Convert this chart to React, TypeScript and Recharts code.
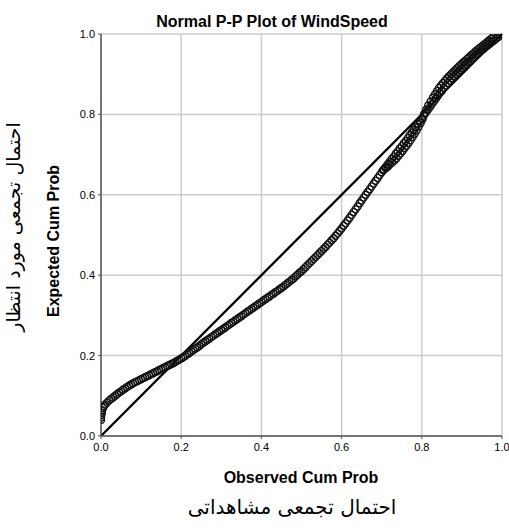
import React from 'react';
import { ScatterChart, Scatter, XAxis, YAxis, CartesianGrid, ReferenceLine } from 'recharts';

// Observed cumulative probability (x) of each plotted case
const observedCumProb = [
  0.000, 0.000, 0.001, 0.002, 0.003, 0.005, 0.007,
  0.010, 0.015, 0.020, 0.025, 0.030, 0.035, 0.040, 0.045, 0.050, 0.055,
  0.060, 0.065, 0.070, 0.075, 0.080, 0.085, 0.090, 0.095, 0.100, 0.105,
  0.110, 0.115, 0.120, 0.125, 0.130, 0.135, 0.140, 0.145, 0.150, 0.155,
  0.160, 0.165, 0.170, 0.175, 0.180, 0.185, 0.190, 0.195, 0.200, 0.205,
  0.210, 0.215, 0.220, 0.225, 0.230, 0.235, 0.240, 0.245, 0.250, 0.255,
  0.260, 0.265, 0.270, 0.275, 0.280, 0.285, 0.290, 0.295, 0.300, 0.305,
  0.310, 0.315, 0.320, 0.325, 0.330, 0.335, 0.340, 0.345, 0.350, 0.355,
  0.360, 0.365, 0.370, 0.375, 0.380, 0.385, 0.390, 0.395, 0.400, 0.405,
  0.410, 0.415, 0.420, 0.425, 0.430, 0.435, 0.440, 0.445, 0.450, 0.455,
  0.460, 0.465, 0.470, 0.475, 0.480, 0.485, 0.490, 0.495, 0.500, 0.505,
  0.510, 0.515, 0.520, 0.525, 0.530, 0.535, 0.540, 0.545, 0.550, 0.555,
  0.560, 0.565, 0.570, 0.575, 0.580, 0.585, 0.590, 0.595, 0.600, 0.605,
  0.610, 0.615, 0.620, 0.625, 0.630, 0.635, 0.640, 0.645, 0.650, 0.655,
  0.660, 0.665, 0.670, 0.675, 0.680, 0.685, 0.690, 0.695, 0.700, 0.705,
  0.710, 0.715, 0.720, 0.725, 0.730, 0.735, 0.740, 0.745, 0.750, 0.755,
  0.760, 0.765, 0.770, 0.775, 0.780, 0.785, 0.790, 0.795, 0.800, 0.805,
  0.810, 0.815, 0.820, 0.825, 0.830, 0.835, 0.840, 0.845, 0.850, 0.855,
  0.860, 0.865, 0.870, 0.875, 0.880, 0.885, 0.890, 0.895, 0.900, 0.905,
  0.910, 0.915, 0.920, 0.925, 0.930, 0.935, 0.940, 0.945, 0.950, 0.955,
  0.960, 0.965, 0.970, 0.975, 0.980, 0.985, 0.990, 0.995, 1.000,
  // lower edge of the band (0.70 - 0.80)
  0.704, 0.710, 0.715, 0.720, 0.726, 0.732, 0.737, 0.742, 0.747, 0.752, 0.757,
  0.762, 0.767, 0.772, 0.777, 0.782, 0.787, 0.792, 0.797, 0.802,
  // upper edge of the band (0.81 - 0.98)
  0.806, 0.811, 0.816, 0.822, 0.828, 0.833, 0.838, 0.843, 0.848, 0.853,
  0.858, 0.863, 0.868, 0.873, 0.878, 0.883, 0.888, 0.893, 0.898, 0.903,
  0.908, 0.913, 0.918, 0.923, 0.928, 0.933, 0.938, 0.943, 0.948, 0.953,
  0.958, 0.963, 0.968, 0.973, 0.978,
];

// Expected cumulative probability (y) of each plotted case
const expectedCumProb = [
  0.040, 0.046, 0.052, 0.058, 0.064, 0.070, 0.074,
  0.078, 0.083, 0.088, 0.092, 0.096, 0.100, 0.104, 0.108, 0.111, 0.115,
  0.118, 0.122, 0.125, 0.128, 0.131, 0.134, 0.136, 0.139, 0.141, 0.144,
  0.146, 0.149, 0.151, 0.154, 0.156, 0.159, 0.161, 0.164, 0.166, 0.169,
  0.171, 0.174, 0.176, 0.179, 0.181, 0.184, 0.187, 0.190, 0.193, 0.196,
  0.199, 0.203, 0.206, 0.210, 0.213, 0.217, 0.220, 0.224, 0.228, 0.232,
  0.235, 0.239, 0.242, 0.246, 0.249, 0.253, 0.256, 0.260, 0.263, 0.267,
  0.270, 0.274, 0.277, 0.281, 0.284, 0.288, 0.291, 0.295, 0.298, 0.302,
  0.305, 0.309, 0.312, 0.316, 0.319, 0.323, 0.326, 0.330, 0.333, 0.337,
  0.340, 0.344, 0.347, 0.351, 0.354, 0.358, 0.361, 0.365, 0.368, 0.372,
  0.376, 0.380, 0.384, 0.388, 0.392, 0.397, 0.401, 0.406, 0.410, 0.415,
  0.420, 0.425, 0.430, 0.435, 0.440, 0.445, 0.450, 0.455, 0.460, 0.465,
  0.470, 0.476, 0.481, 0.487, 0.492, 0.498, 0.504, 0.510, 0.516, 0.523,
  0.529, 0.536, 0.543, 0.550, 0.557, 0.564, 0.571, 0.579, 0.586, 0.593,
  0.600, 0.607, 0.614, 0.621, 0.628, 0.635, 0.642, 0.649, 0.656, 0.663,
  0.669, 0.676, 0.682, 0.689, 0.695, 0.702, 0.708, 0.715, 0.721, 0.728,
  0.734, 0.741, 0.748, 0.755, 0.762, 0.769, 0.776, 0.783, 0.790, 0.797,
  0.804, 0.811, 0.818, 0.825, 0.832, 0.839, 0.846, 0.853, 0.859, 0.866,
  0.872, 0.878, 0.884, 0.890, 0.895, 0.900, 0.905, 0.910, 0.915, 0.920,
  0.924, 0.929, 0.933, 0.938, 0.942, 0.947, 0.951, 0.956, 0.960, 0.964,
  0.968, 0.972, 0.976, 0.980, 0.984, 0.988, 0.992, 0.996, 1.000,
  // lower edge of the band
  0.661, 0.666, 0.670, 0.675, 0.680, 0.686, 0.691, 0.697, 0.703, 0.709, 0.716,
  0.722, 0.729, 0.736, 0.744, 0.752, 0.760, 0.769, 0.778, 0.788,
  // upper edge of the band
  0.802, 0.812, 0.822, 0.832, 0.842, 0.850, 0.858, 0.866, 0.872, 0.878,
  0.884, 0.890, 0.895, 0.900, 0.905, 0.910, 0.915, 0.920, 0.924, 0.929,
  0.933, 0.938, 0.942, 0.947, 0.951, 0.956, 0.960, 0.964, 0.968, 0.972,
  0.976, 0.980, 0.984, 0.988, 0.992,
];

const axisTicks = [0, 0.2, 0.4, 0.6, 0.8, 1.0];
const diagonal = [
  { x: 0, y: 0 },
  { x: 1, y: 1 },
];

const chartTitle = 'Normal P-P Plot of WindSpeed';
const xLabel = 'Observed Cum Prob';
const yLabel = 'Expected Cum Prob';
const xLabelFa = 'احتمال تجمعی مشاهداتی';
const yLabelFa = 'احتمال تجمعی مورد انتظار';

const points = observedCumProb.map((x, i) => ({ x, y: expectedCumProb[i] }));

const FONT = '"Liberation Sans", Arial, sans-serif';
const FA_FONT = '"DejaVu Sans", sans-serif';

const HollowCircle = (props: any) => {
  const { cx, cy } = props;
  if (cx == null || cy == null) return null;
  return <circle cx={cx} cy={cy} r={3.5} fill="none" stroke="#111" strokeWidth={1.4} />;
};

export default function App() {
  return (
    <div style={{ position: 'absolute', left: 0, top: 0, width: 509, height: 530, background: '#fff' }}>
      <ScatterChart
        width={509}
        height={530}
        margin={{ top: 34, right: 7, bottom: 64, left: 71 }}
      >
        <CartesianGrid stroke="#cccccc" strokeWidth={1.5} />
        <XAxis
          type="number"
          dataKey="x"
          domain={[0, 1]}
          ticks={axisTicks}
          tickFormatter={(v: number) => v.toFixed(1)}
          height={30}
          tickSize={3}
          tickMargin={4}
          axisLine={{ stroke: '#555', strokeWidth: 1.5 }}
          tickLine={{ stroke: '#555' }}
          tick={{ fill: '#000', fontSize: 11, fontFamily: FONT }}
          allowDataOverflow
        />
        <YAxis
          type="number"
          dataKey="y"
          domain={[0, 1]}
          ticks={axisTicks}
          tickFormatter={(v: number) => v.toFixed(1)}
          width={30}
          tickSize={3}
          tickMargin={3}
          axisLine={{ stroke: '#555', strokeWidth: 1.5 }}
          tickLine={{ stroke: '#555' }}
          tick={{ fill: '#000', fontSize: 11, fontFamily: FONT }}
          allowDataOverflow
        />
        <ReferenceLine
          segment={diagonal}
          stroke="#000"
          strokeWidth={2.3}
          ifOverflow="visible"
        />
        <Scatter data={points} isAnimationActive={false} shape={HollowCircle} />
      </ScatterChart>
      <svg
        width={509}
        height={530}
        style={{ position: 'absolute', left: 0, top: 0, pointerEvents: 'none' }}
      >
        <text x={272} y={26.5} textAnchor="middle" fontSize={16} fontWeight="bold" fontFamily={FONT} fill="#000">
          {chartTitle}
        </text>
        <text x={301} y={483} textAnchor="middle" fontSize={16} fontWeight="bold" fontFamily={FONT} fill="#000">
          {xLabel}
        </text>
        <text
          transform="translate(58.5,241) rotate(-90)"
          textAnchor="middle"
          fontSize={16}
          fontWeight="bold"
          fontFamily={FONT}
          fill="#000"
        >
          {yLabel}
        </text>
        <text x={292} y={514} textAnchor="middle" fontSize={20} fontFamily={FA_FONT} fill="#000" direction="rtl">
          {xLabelFa}
        </text>
        <text
          transform="translate(20,227) rotate(-90)"
          textAnchor="middle"
          fontSize={19}
          fontFamily={FA_FONT}
          fill="#000"
          direction="rtl"
        >
          {yLabelFa}
        </text>
      </svg>
    </div>
  );
}
